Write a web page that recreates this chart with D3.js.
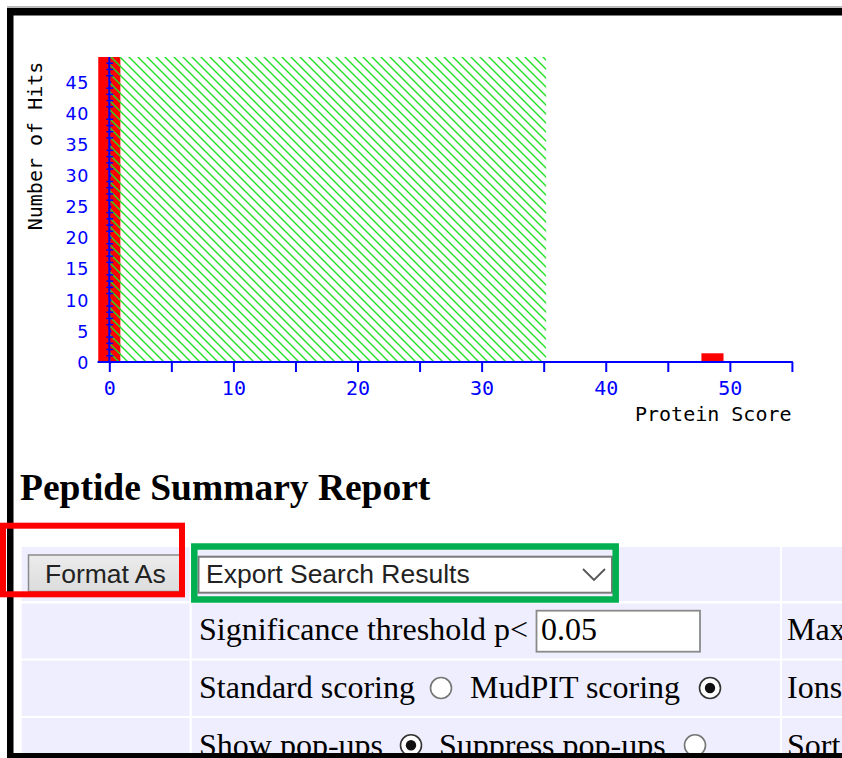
<!DOCTYPE html>
<html><head><meta charset="utf-8">
<script src="https://cdn.jsdelivr.net/npm/d3@7"></script>
<style>html,body{margin:0;padding:0;background:#fff;overflow:hidden}</style>
</head><body>
<svg id="c" width="842" height="758"></svg>
<script>
// ---------- data ----------
const binScores = [0, 48.6];          // protein score of each histogram bin
const binHits   = [49, 1.4];          // number of hits in each bin (first bin is clipped at top)
const thresholdScore = 35.2;          // random-match region (green hatch) up to this score
const xTickValues  = [0,5,10,15,20,25,30,35,40,45,50,55];
const xLabelValues = [0,10,20,30,40,50];
const yMajorTicks  = [0,5,10,15,20,25,30,35,40,45];
const yMinorTicks  = [1,2,3,4,6,7,8,9,11,12,13,14,16,17,18,19,21,22,23,24,26,27,28,29,31,32,33,34,36,37,38,39,41,42,43,44,46,47,48];
const xTitle = "Protein Score";
const yTitle = "Number of Hits";
const heading = "Peptide Summary Report";
const buttonLabel = "Format As";
const selectLabel = "Export Search Results";
const thresholdLabel = "Significance threshold p<";
const thresholdValue = "0.05";
const rightColLabels = ["Max", "Ions", "Sort"];
const scoringLabels = ["Standard scoring", "MudPIT scoring"];
const scoringChecked = [false, true];
const popupLabels = ["Show pop-ups", "Suppress pop-ups"];
const popupChecked = [true, false];

// ---------- chart ----------
const svg = d3.select("#c");
const x = d3.scaleLinear().domain([0, 55]).range([109.3, 791.9]);
const y = d3.scaleLinear().domain([0, 49]).range([362, 57]);
const binWidth = 1.78;
const bins = binScores.map((s, i) => ({score: s, hits: binHits[i]}));

const defs = svg.append("defs");
const pat = defs.append("pattern").attr("id", "hatch")
  .attr("patternUnits", "userSpaceOnUse").attr("width", 9).attr("height", 9);
pat.append("path").attr("d", "M0,0 L9,9 M-1,8 L1,10 M8,-1 L10,1")
  .attr("stroke", "#22e022").attr("stroke-width", 1.4).attr("fill", "none");

const plot = svg.append("g");
plot.selectAll("rect.bin").data(bins).join("rect").attr("class", "bin")
  .attr("x", d => x(d.score - binWidth / 2))
  .attr("width", d => x(d.score + binWidth / 2) - x(d.score - binWidth / 2))
  .attr("y", d => y(Math.min(d.hits, y.domain()[1])))
  .attr("height", d => y(0) - y(Math.min(d.hits, y.domain()[1])))
  .attr("fill", "#ff0000");

plot.append("rect")
  .attr("x", x(0)).attr("width", x(thresholdScore) - x(0))
  .attr("y", y(y.domain()[1])).attr("height", y(0) - y(y.domain()[1]))
  .attr("fill", "url(#hatch)");

const blue = "#0000ff";
// x axis
const xAxis = d3.axisBottom(x).tickValues(xTickValues).tickSize(10).tickSizeOuter(0)
  .tickFormat(d => xLabelValues.includes(d) ? d : "");
const gx = svg.append("g").attr("transform", `translate(0,${y(0)})`).call(xAxis);
gx.select(".domain").remove();
gx.selectAll(".tick line").attr("stroke", blue).attr("stroke-width", 2);
gx.selectAll(".tick text").attr("fill", blue).attr("y", 33).attr("dy", null)
  .attr("font-family", "DejaVu Sans Mono").attr("font-size", 20);
svg.append("line").attr("x1", x(-0.95)).attr("x2", x(55) + 1).attr("y1", y(0)).attr("y2", y(0))
  .attr("stroke", blue).attr("stroke-width", 2);

// y axis
const yAxis = d3.axisLeft(y).tickValues(yMajorTicks).tickSize(13).tickSizeOuter(0).tickPadding(7);
const gy = svg.append("g").attr("transform", `translate(${x(0)},0)`).call(yAxis);
gy.select(".domain").remove();
gy.selectAll(".tick line").attr("stroke", blue).attr("stroke-width", 2).attr("x2", 2);
gy.selectAll(".tick text").attr("fill", blue).attr("dy", "0.36em")
  .attr("font-family", "DejaVu Sans").attr("font-size", 17.5).attr("letter-spacing", 0.8);
gy.selectAll("line.minor").data(yMinorTicks).join("line").attr("class", "minor")
  .attr("x1", -3).attr("x2", 4).attr("y1", d => y(d)).attr("y2", d => y(d))
  .attr("stroke", blue).attr("stroke-width", 1.5);
svg.append("line").attr("x1", x(0)).attr("x2", x(0)).attr("y1", y(y.domain()[1])).attr("y2", y(0))
  .attr("stroke", blue).attr("stroke-width", 2);

svg.append("text").text(xTitle).attr("x", 635).attr("y", 421)
  .attr("font-family", "DejaVu Sans Mono").attr("font-size", 20).attr("fill", "#000");
svg.append("text").text(yTitle).attr("transform", "translate(42,146) rotate(-90)")
  .attr("text-anchor", "middle")
  .attr("font-family", "DejaVu Sans Mono").attr("font-size", 20).attr("fill", "#000");

// ---------- report section ----------
svg.append("text").text(heading).attr("x", 20).attr("y", 499.5)
  .attr("font-family", "Liberation Serif").attr("font-weight", "bold")
  .attr("font-size", 37.5).attr("fill", "#000");

const lav = "#eeeefe";
const rows = [[547, 601], [603.5, 658.5], [660.5, 716], [718, 770]];
const cols = [[21.7, 189.5], [191.7, 780], [782, 850]];
rows.forEach(r => cols.forEach(c => {
  svg.append("rect").attr("x", c[0]).attr("y", r[0]).attr("width", c[1] - c[0])
    .attr("height", r[1] - r[0]).attr("fill", lav);
}));

// button
const bg = defs.append("linearGradient").attr("id", "btn").attr("x1", 0).attr("x2", 0).attr("y1", 0).attr("y2", 1);
bg.append("stop").attr("offset", 0).attr("stop-color", "#ececec");
bg.append("stop").attr("offset", 1).attr("stop-color", "#dcdcdc");
svg.append("rect").attr("x", 28.5).attr("y", 555).attr("width", 152).attr("height", 36.5)
  .attr("fill", "url(#btn)").attr("stroke", "#8a8a8a").attr("stroke-width", 1.5);
svg.append("text").text(buttonLabel).attr("x", 45).attr("y", 582.7)
  .attr("font-family", "Liberation Sans").attr("font-size", 26.5).attr("fill", "#222");

// select
svg.append("rect").attr("x", 198.5).attr("y", 556.7).attr("width", 413.5).attr("height", 36)
  .attr("fill", "#fff").attr("stroke", "#7a7a7a").attr("stroke-width", 2);
svg.append("text").text(selectLabel).attr("x", 206).attr("y", 582.7)
  .attr("font-family", "Liberation Sans").attr("font-size", 26.5).attr("fill", "#222");
svg.append("path").attr("d", "M583,569 L594,580 L605,569").attr("fill", "none")
  .attr("stroke", "#555").attr("stroke-width", 1.8);

const serif = t => t.attr("font-family", "Liberation Serif").attr("font-size", 32).attr("fill", "#000");
// row 2
serif(svg.append("text").text(thresholdLabel).attr("x", 199).attr("y", 640));
svg.append("rect").attr("x", 536.5).attr("y", 610.7).attr("width", 163.5).attr("height", 41)
  .attr("fill", "#fff").attr("stroke", "#8a8a8a").attr("stroke-width", 1.8);
serif(svg.append("text").text(thresholdValue).attr("x", 541).attr("y", 640));
// right column
[640, 698.3, 755.6].forEach((b, i) => serif(svg.append("text").text(rightColLabels[i]).attr("x", 787).attr("y", b)));

function radio(cx, cy, checked) {
  svg.append("circle").attr("cx", cx).attr("cy", cy).attr("r", 10.5)
    .attr("fill", "#fff").attr("stroke", checked ? "#333" : "#767676").attr("stroke-width", 1.6);
  if (checked) svg.append("circle").attr("cx", cx).attr("cy", cy).attr("r", 5.2).attr("fill", "#111");
}
// row 3
serif(svg.append("text").text(scoringLabels[0]).attr("x", 199).attr("y", 698.3));
radio(441, 688, scoringChecked[0]);
serif(svg.append("text").text(scoringLabels[1]).attr("x", 470).attr("y", 698.3));
radio(710, 688, scoringChecked[1]);
// row 4
serif(svg.append("text").text(popupLabels[0]).attr("x", 199).attr("y", 755.6));
radio(411, 745.3, popupChecked[0]);
serif(svg.append("text").text(popupLabels[1]).attr("x", 439).attr("y", 755.6));
radio(695, 745.3, popupChecked[1]);

// black frame
svg.append("rect").attr("x", 7).attr("y", 6).attr("width", 835).attr("height", 2).attr("fill", "#bbb");
svg.append("rect").attr("x", 7).attr("y", 8).attr("width", 835).attr("height", 7.5).attr("fill", "#000");
svg.append("rect").attr("x", 7).attr("y", 8).attr("width", 6.5).attr("height", 750).attr("fill", "#000");
svg.append("rect").attr("x", 7).attr("y", 753).attr("width", 835).attr("height", 5).attr("fill", "#000");

// highlight boxes
svg.append("rect").attr("x", 3).attr("y", 525.7).attr("width", 179).attr("height", 68.6)
  .attr("fill", "none").attr("stroke", "#ff0000").attr("stroke-width", 6);
svg.append("rect").attr("x", 194.3).attr("y", 546.5).attr("width", 421.4).attr("height", 53)
  .attr("fill", "none").attr("stroke", "#00b050").attr("stroke-width", 6.5);
</script>
</body></html>
